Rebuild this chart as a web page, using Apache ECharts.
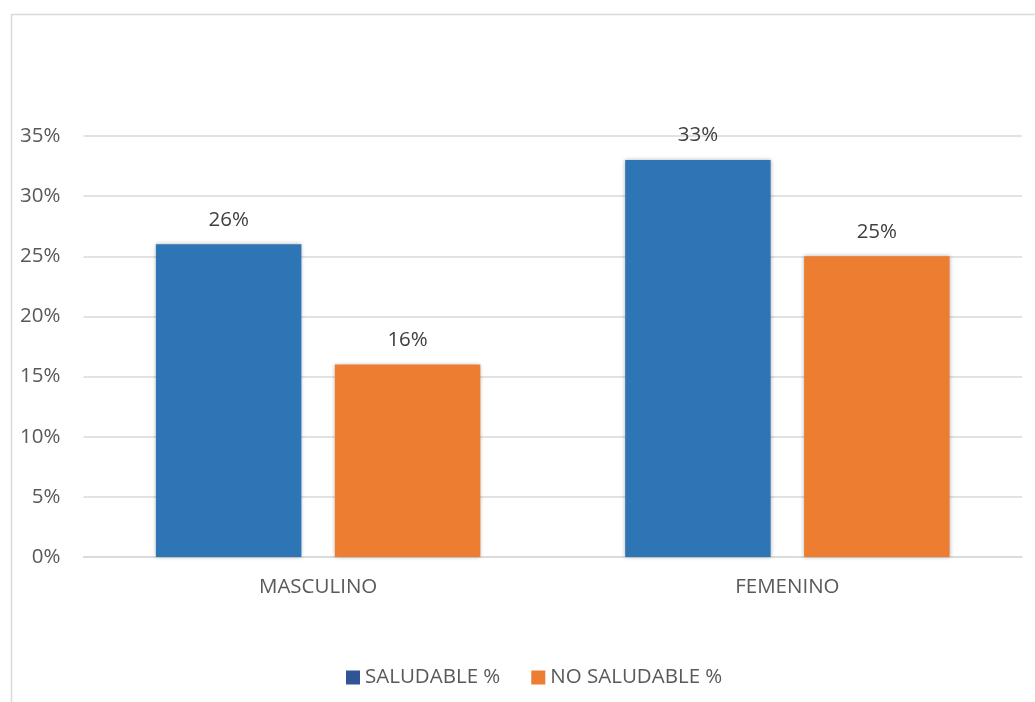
<!DOCTYPE html>
<html><head><meta charset="utf-8">
<script src="https://cdn.jsdelivr.net/npm/echarts@6/dist/echarts.min.js"></script>
<style>html,body{margin:0;padding:0;background:#fff}#c{width:1035px;height:702px}</style>
</head><body><div id="c"></div>
<script>
const categories = ["MASCULINO", "FEMENINO"];
const saludable = [26, 33];
const noSaludable = [16, 25];
const seriesNames = ["SALUDABLE %", "NO SALUDABLE %"];
const yTicks = [0, 5, 10, 15, 20, 25, 30, 35];

const font = "'Open Sans', 'Liberation Sans', sans-serif";
const fs = 20.5;
const chart = echarts.init(document.getElementById('c'));
chart.setOption({
  animation: false,
  textStyle: {fontFamily: font},
  graphic: [{type: 'rect', shape: {x: 11.5, y: 14.5, width: 1040, height: 720}, style: {fill: 'none', stroke: '#d9d9d9', lineWidth: 1.5}, silent: true}],
  grid: {left: 83.5, right: 13, top: 136, bottom: 145, containLabel: false},
  legend: {
    top: 662, left: 341,
    itemWidth: 14, itemHeight: 14, itemGap: 31,
    icon: 'rect',
    textStyle: {fontSize: fs, color: '#595959', fontFamily: font},
    data: [{name: seriesNames[0], itemStyle: {color: '#2F5597'}}, {name: seriesNames[1], itemStyle: {color: '#ED7D31'}}]
  },
  xAxis: {
    type: 'category', data: categories,
    axisLine: {lineStyle: {color: '#d9d9d9', width: 1.5}},
    axisTick: {show: false},
    axisLabel: {fontSize: fs, color: '#595959', margin: 20, fontFamily: font}
  },
  yAxis: {
    type: 'value', min: 0, max: 35, interval: 5,
    axisLine: {show: false}, axisTick: {show: false},
    splitLine: {lineStyle: {color: '#d9d9d9', width: 1.5}},
    axisLabel: {fontSize: fs, color: '#595959', margin: 23, fontFamily: font, formatter: v => yTicks.includes(v) ? v + '%' : ''}
  },
  series: [
    {name: seriesNames[0], type: 'bar', data: saludable, barWidth: '31%', barGap: '23%',
     itemStyle: {color: '#2E75B6', shadowBlur: 4, shadowColor: 'rgba(0,0,0,0.3)'},
     label: {show: true, position: 'top', distance: 14, fontSize: fs, color: '#404040', fontFamily: font, formatter: p => p.value + '%'}},
    {name: seriesNames[1], type: 'bar', data: noSaludable, barWidth: '31%', barGap: '23%',
     itemStyle: {color: '#ED7D31', shadowBlur: 4, shadowColor: 'rgba(0,0,0,0.3)'},
     label: {show: true, position: 'top', distance: 14, fontSize: fs, color: '#404040', fontFamily: font, formatter: p => p.value + '%'}}
  ]
});
</script></body></html>
